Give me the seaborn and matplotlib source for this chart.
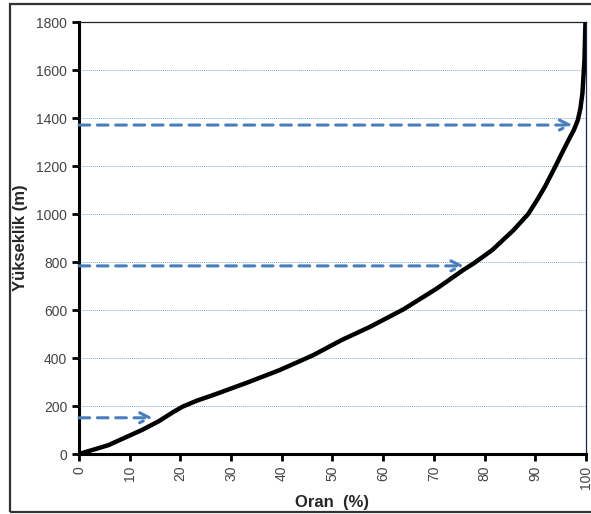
import numpy as np
import pandas as pd
import seaborn as sns
import matplotlib.pyplot as plt
from matplotlib.patches import Rectangle

# eğri: yüksekliğe göre kümülatif oran (grafikten okunan noktalar)
yukseklik = [0, 37, 100, 135, 175, 197, 222, 246, 297, 350, 412, 475, 530,
             603, 690, 767, 795, 850, 933, 1000, 1060, 1114, 1200, 1260,
             1310, 1350, 1392, 1440, 1503, 1642, 1800]
oran = [0, 5.8, 12.4, 15.6, 18.6, 20.4, 23.2, 26.5, 33.1, 39.6, 46.2, 51.8,
        57.4, 64.0, 70.6, 75.8, 77.9, 81.5, 85.7, 88.6, 90.4, 91.9, 94.0,
        95.4, 96.6, 97.6, 98.4, 98.9, 99.3, 99.7, 99.9]

# kesikli oklar (yükseklik, bitiş oranı)
ok_yukseklik = [151, 784, 1371]
ok_oran = [14.6, 76.0, 97.4]

x_ticks = list(range(0, 101, 10))
y_ticks = list(range(0, 1801, 200))

sns.set_theme(style="white")
plt.rcParams['font.family'] = ['Liberation Sans', 'DejaVu Sans']

df = pd.DataFrame({'Oran': oran, 'Yukseklik': yukseklik})

fig = plt.figure(figsize=(5.91, 5.14), dpi=100)
ax = fig.add_axes([0.1337, 0.1167, 0.8578, 0.8403])

for yy in y_ticks[1:-1]:
    ax.axhline(yy, color='#8aa6c1', lw=0.7, ls=(0, (1, 1)), zorder=1)

sns.lineplot(data=df, x='Oran', y='Yukseklik', sort=False, color='black',
             lw=3.2, ax=ax, zorder=4)
ax.lines[-1].set_solid_joinstyle('round')

for yy, xx in zip(ok_yukseklik, ok_oran):
    ax.annotate('', xy=(xx, yy), xytext=(0, yy),
                arrowprops=dict(arrowstyle='->', color='#4a7ebb', lw=2.2,
                                ls=(0, (3.5, 2.5)), mutation_scale=18,
                                shrinkA=0, shrinkB=0),
                zorder=3)

ax.set_xlim(0, 100)
ax.set_ylim(0, 1800)
ax.set_xticks(x_ticks)
ax.set_yticks(y_ticks)
ax.set_xticklabels([str(v) for v in x_ticks], rotation=90)
ax.tick_params(axis='both', labelsize=10, labelcolor='#444444', direction='out',
               length=5, width=2, color='black', bottom=True, left=True)

for side in ['left', 'bottom']:
    ax.spines[side].set_linewidth(2.2)
    ax.spines[side].set_color('black')
ax.spines['top'].set_linewidth(0.9)
ax.spines['top'].set_color('#222222')
ax.spines['right'].set_linewidth(0.9)
ax.spines['right'].set_color('#1a2a50')

ax.set_xlabel('Oran  (%)', fontsize=12, fontweight='bold', labelpad=4)
ax.set_ylabel('Yükseklik (m)', fontsize=12, fontweight='bold', labelpad=6)

fig.patches.append(Rectangle((10 / 591, 2 / 514), 1.0, 508 / 514,
                             transform=fig.transFigure, fill=False,
                             edgecolor='#333333', lw=1.6, zorder=0))

fig.savefig('out.png', dpi=100)
